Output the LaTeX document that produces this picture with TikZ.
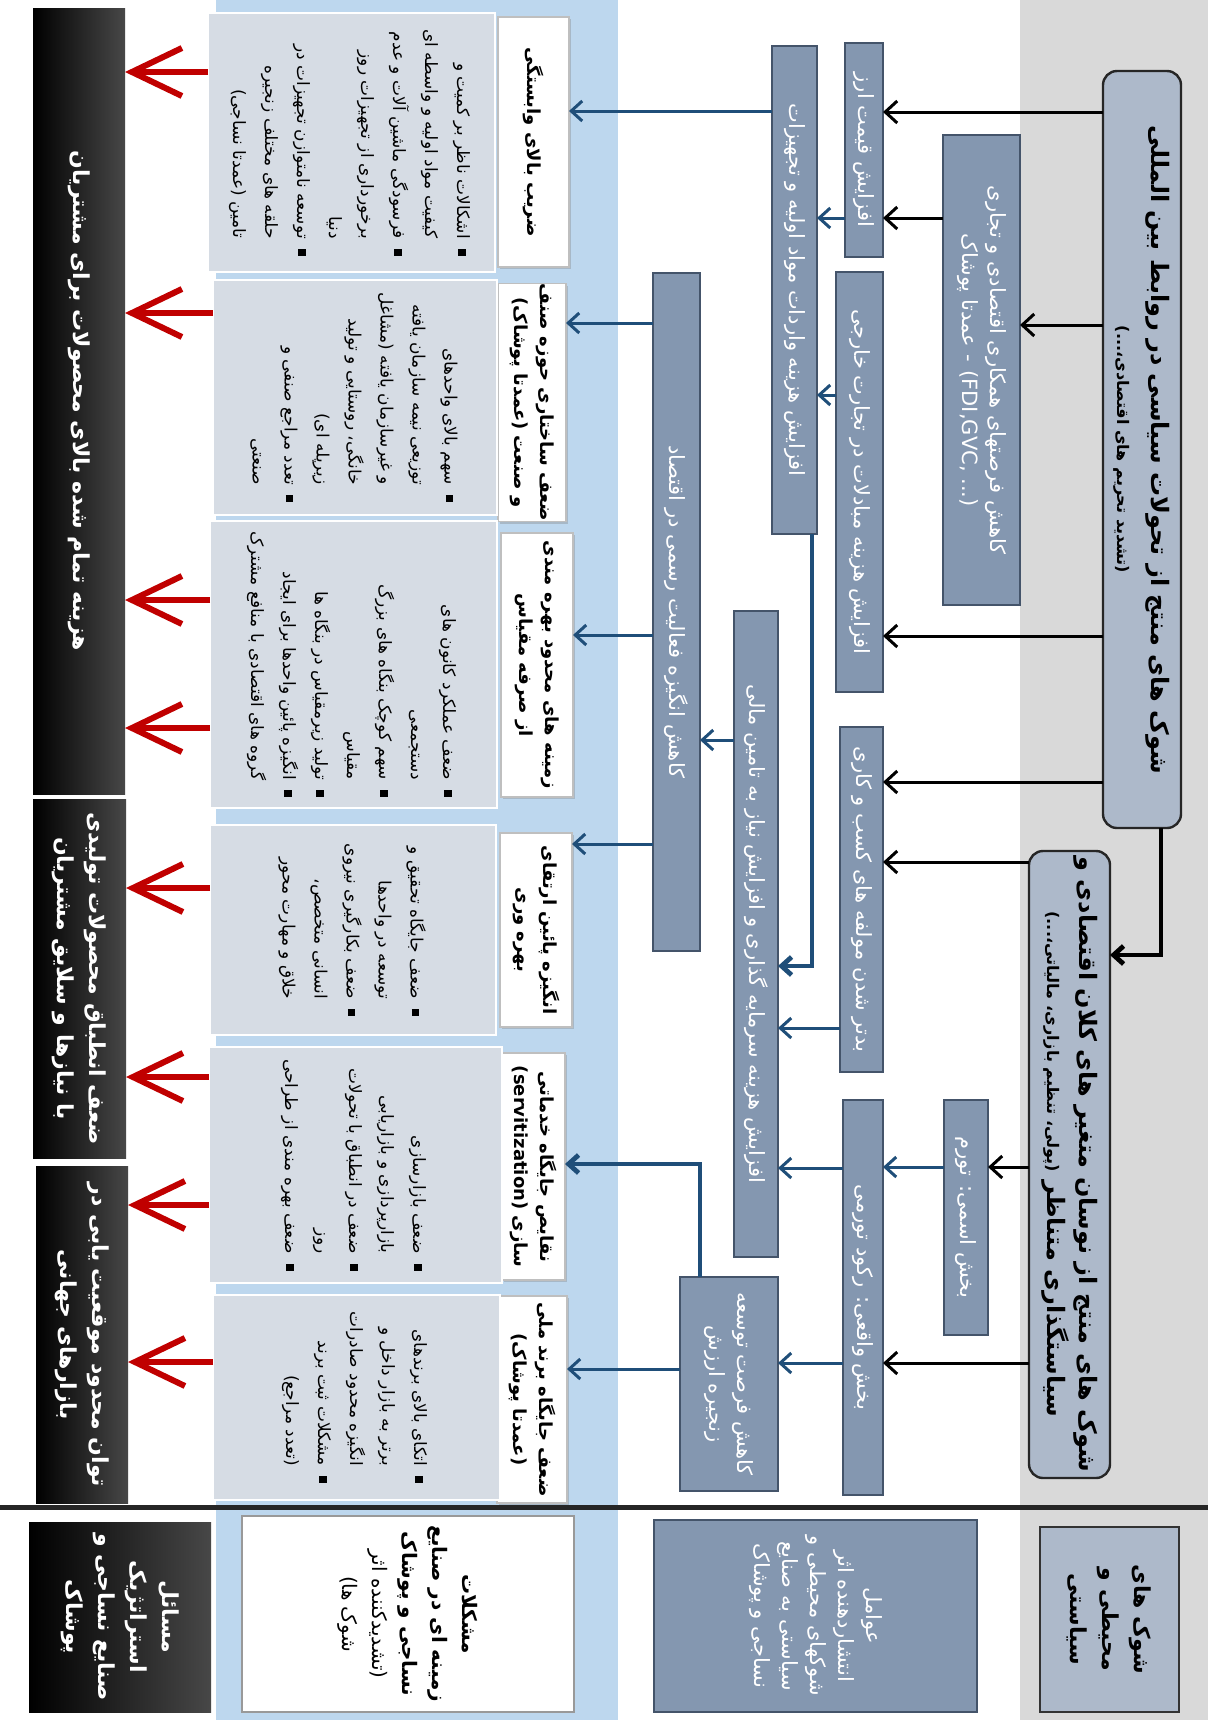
\documentclass[tikz,border=0pt]{standalone}
\usepackage{fontspec}
\setmainfont{DejaVu Sans}
\newfontfamily\fafont[Script=Arabic]{DejaVu Sans}
\TeXXeTstate=1
\usetikzlibrary{arrows.meta,shadows}
\definecolor{grayband}{HTML}{D9D9D9}
\definecolor{blueband}{HTML}{BDD7EE}
\definecolor{shockfill}{HTML}{ADB9CA}
\definecolor{steel}{HTML}{8497B0}
\definecolor{steeledge}{HTML}{44546A}
\definecolor{bulfill}{HTML}{D6DCE4}
\definecolor{arrowblue}{HTML}{1F4E79}
\definecolor{arrowred}{HTML}{C00000}
\newcommand{\rl}[1]{\beginR#1\endR}
\newcommand{\rlb}[1]{{\bfseries\beginR#1\endR}}
\newcommand{\latinpart}[1]{\beginL{\rmfamily #1}\endL}
\newcommand{\setfs}[2]{\fontsize{#1}{#2}\selectfont}
\newcommand{\bul}{\raisebox{0.6pt}{\rule{3.6pt}{3.6pt}}}
\newcommand{\bt}[1]{\begin{tabular}{@{}r@{\hspace{5pt}}c@{}}#1\end{tabular}}
\newcommand{\mkbox}[7]{%
  \pgfmathsetlengthmacro\mkW{(#6-#4)*0.5pt}%
  \pgfmathsetlengthmacro\mkH{(#5-#3)*0.5pt}%
  \node[#1, minimum width=\mkW, minimum height=\mkH] (#2) at ({(#3+#5)/2},{(#4+#6)/2}) {#7};}
\tikzset{
  base/.style={rotate=-90, inner sep=0pt, outer sep=0pt, align=center},
  shock/.style={base, fill=shockfill, draw=black!85, line width=1.2pt, rounded corners=7pt, font={\fafont\bfseries\setfs{12}{16}}},
  shocklg/.style={base, fill=shockfill, draw=black!80, line width=1pt, font={\fafont\bfseries\setfs{11}{16}}},
  steelbox/.style={base, fill=steel, draw=steeledge, line width=1pt, text=white, font={\fafont\setfs{10.5}{14}}},
  titlebox/.style={base, fill=white, draw=black!25, line width=0.6pt, drop shadow={shadow xshift=1.2pt, shadow yshift=-1.2pt, opacity=0.35}, font={\fafont\bfseries\setfs{9}{13}}},
  bulbox/.style={base, fill=bulfill, draw=white, line width=1pt, font={\fafont\setfs{8.5}{16}}},
  blackbox/.style={base, draw=none, left color=black, middle color=black, right color=black!72, text=white, font={\fafont\bfseries\setfs{11}{16}}},
  whitelg/.style={base, fill=white, draw=black!40, line width=0.8pt, font={\fafont\setfs{10}{15}}},
  blk/.style={draw=black, line width=1.5pt, -{Straight Barb[length=6pt,width=11pt]}},
  blkthick/.style={draw=black, line width=2.4pt, -{Straight Barb[length=5pt,width=9pt]}},
  blu/.style={draw=arrowblue, line width=1.5pt, -{Straight Barb[length=5.5pt,width=10pt]}},
  bluthick/.style={draw=arrowblue, line width=2.4pt, -{Straight Barb[length=5pt,width=9pt]}},
  redarr/.style={draw=arrowred, line width=3pt, -{Straight Barb[length=25pt,width=24pt]}},
}
\begin{document}
\begin{tikzpicture}[x=0.5pt,y=-0.5pt]
\useasboundingbox (0,0) rectangle (1208,1720);
\fill[white] (0,0) rectangle (1208,1720);
% bands
\fill[grayband] (1020,0) rectangle (1208,1720);
\fill[blueband] (216,0) rectangle (618,1720);
\draw[line width=2.5pt, black!85] (0,1507) -- (1208,1507);

% shocks
\mkbox{shock}{A}{1103}{71}{1181}{828}{\rl{شوک های منتج از تحولات سیاسی در روابط بین المللی}\\[1pt]{\setfs{8}{10}\rl{(تشدید تحریم های اقتصادی،...)}}}
\mkbox{shock}{B}{1029}{851}{1110}{1478}{\rl{شوک های منتج از نوسان متغیر های کلان اقتصادی و}\\ \rl{سیاستگذاری متناظر {\setfs{8}{10}(پولی، تنظیم بازاری، مالیاتی،...)}}}
\mkbox{shocklg}{LG}{1040}{1527}{1179}{1712}{\rl{شوک های}\\ \rl{محیطی و}\\ \rl{سیاستی}}

% column 2
\mkbox{steelbox}{arz}{845}{43}{883}{257}{\rl{افزایش قیمت ارز}}
\mkbox{steelbox}{hamk}{943}{135}{1020}{605}{\rl{کاهش فرصتهای همکاری اقتصادی و تجاری}\\ \rl{\latinpart{(FDI,GVC, ...)} - عمدتا پوشاک}}
\mkbox{steelbox}{mobad}{836}{272}{883}{692}{\rl{افزایش هزینه مبادلات در تجارت خارجی}}
\mkbox{steelbox}{badtar}{840}{727}{883}{1072}{\rl{بدتر شدن مولفه های کسب و کاری}}
\mkbox{steelbox}{tavar}{944}{1100}{988}{1335}{\rl{بخش اسمی: تورم}}
\mkbox{steelbox}{vaghei}{843}{1100}{883}{1495}{\rl{بخش واقعی: رکود تورمی}}

% column 3
\mkbox{steelbox}{vared}{772}{46}{817}{534}{\rl{افزایش هزینه واردات مواد اولیه و تجهیزات}}
\mkbox{steelbox}{angiz}{653}{273}{700}{951}{\rl{کاهش انگیزه فعالیت رسمی در اقتصاد}}
\mkbox{steelbox}{sarm}{734}{611}{778}{1257}{\rl{افزایش هزینه سرمایه گذاری و افزایش نیاز به تامین مالی}}
\mkbox{steelbox}{zanj}{680}{1277}{778}{1491}{\rl{کاهش فرصت توسعه}\\ \rl{زنجیره ارزش}}
\mkbox{steelbox}{LS}{654}{1520}{977}{1712}{\rl{عوامل}\\ \rl{انتشاردهنده اثر}\\ \rl{شوکهای محیطی و}\\ \rl{سیاستی به صنایع}\\ \rl{نساجی و پوشاک}}

% title boxes
\mkbox{titlebox}{t1}{498}{17}{569}{267}{\rl{ضریب بالای وابستگی}}
\mkbox{titlebox}{t2}{498}{287}{566}{518}{\rl{ضعف ساختاری حوزه صنف}\\ \rl{و صنعت (عمدتا پوشاک)}}
\mkbox{titlebox}{t3}{501}{533}{573}{797}{\rl{زمینه های محدود بهره مندی}\\ \rl{از صرفه مقیاس}}
\mkbox{titlebox}{t4}{500}{833}{572}{1027}{\rl{انگیزه پائین ارتقای}\\ \rl{بهره وری}}
\mkbox{titlebox}{t5}{502}{1053}{565}{1280}{\rl{نقایص جایگاه خدماتی}\\ \rl{سازی \latinpart{(servitization)}}}
\mkbox{titlebox}{t6}{497}{1296}{567}{1503}{\rl{ضعف جایگاه برند ملی}\\ \rl{(عمدتا پوشاک)}}
\mkbox{whitelg}{LW}{242}{1516}{574}{1712}{\rlb{مشکلات}\\ \rlb{زمینه ای در صنایع}\\ \rlb{نساجی و پوشاک}\\ \rl{(تشدیدکننده اثر}\\ \rl{شوک ها)}}

% bullet boxes
\mkbox{bulbox}{g1}{208}{13}{495}{272}{\bt{
\rl{اشکالات ناظر بر کمیت و} & \bul\\
\rl{کیفیت مواد اولیه و واسطه ای} & \\
\rl{فرسودگی ماشین آلات و عدم} & \bul\\
\rl{برخورداری از تجهیزات روز} & \\
\rl{دنیا} & \\
\rl{توسعه نامتوازن تجهیزات در} & \bul\\
\rl{حلقه های مختلف زنجیره} & \\
\rl{تامین (عمدتا نساجی)} & }}
\mkbox{bulbox}{g2}{213}{280}{497}{515}{\bt{
\rl{سهم بالای واحدهای} & \bul\\
\rl{توزیعی نیمه سازمان یافته} & \\
\rl{و غیرسازمان یافته (مشاغل} & \\
\rl{خانگی، روستایی و تولید} & \\
\rl{زیرپله ای)} & \\
\rl{تعدد مراجع صنفی و} & \bul\\
\rl{صنعتی} & }}
\mkbox{bulbox}{g3}{210}{521}{497}{808}{\bt{
\rl{ضعف عملکرد کانون های} & \bul\\
\rl{دستجمعی} & \\
\rl{سهم کوچک بنگاه های بزرگ} & \bul\\
\rl{مقیاس} & \\
\rl{تولید زیرمقیاس در بنگاه ها} & \bul\\
\rl{انگیزه پائین واحدها برای ایجاد} & \bul\\
\rl{گروه های اقتصادی با منافع مشترک} & }}
\mkbox{bulbox}{g4}{210}{825}{496}{1035}{\bt{
\rl{ضعف جایگاه تحقیق و} & \bul\\
\rl{توسعه در واحدها} & \\
\rl{ضعف بکارگیری نیروی} & \bul\\
\rl{انسانی متخصص،} & \\
\rl{خلاق و مهارت محور} & }}
\mkbox{bulbox}{g5}{209}{1047}{502}{1283}{\bt{
\rl{ضعف بازارسازی} & \bul\\
\rl{بازارپردازی و بازاریابی} & \\
\rl{ضعف در انطباق با تحولات} & \bul\\
\rl{روز} & \\
\rl{ضعف بهره مندی از طراحی} & \bul}}
\mkbox{bulbox}{g6}{213}{1295}{500}{1500}{\bt{
\rl{اتکای بالای برندهای} & \bul\\
\rl{برتر به بازار داخل و} & \\
\rl{انگیزه محدود صادرات} & \\
\rl{مشکلات ثبت برند} & \bul\\
\rl{(تعدد مراجع)} & }}

% black boxes
\mkbox{blackbox}{k1}{33}{8}{125}{794}{\rl{هزینه تمام شده بالای محصولات برای مشتریان}}
\mkbox{blackbox}{k2}{33}{799}{126}{1158}{\rl{ضعف انطباق محصولات تولیدی}\\ \rl{با نیازها و سلایق مشتریان}}
\mkbox{blackbox}{k3}{36}{1166}{128}{1503}{\rl{توان محدود موقعیت یابی در}\\ \rl{بازارهای جهانی}}
\mkbox{blackbox}{LK}{29}{1522}{211}{1712}{\rl{مسائل}\\ \rl{استراتژیک}\\ \rl{صنایع نساجی و}\\ \rl{پوشاک}}

% black connectors
\draw[blk] (A.south |- 0,112) -- (arz.north |- 0,112);
\draw[blk] (A.south |- 0,325) -- (hamk.north |- 0,325);
\draw[blk] (A.south |- 0,636) -- (mobad.north |- 0,636);
\draw[blk] (A.south |- 0,782) -- (badtar.north |- 0,782);
\draw[blkthick] (A.east -| 1161,0) |- (B.north |- 0,955);
\draw[blk] (hamk.south |- 0,218) -- (arz.north |- 0,218);
\draw[blk] (B.south |- 0,862) -- (badtar.north |- 0,862);
\draw[blk] (B.south |- 0,1167) -- (tavar.north |- 0,1167);
\draw[blk] (B.south |- 0,1363) -- (vaghei.north |- 0,1363);

% blue connectors
\draw[blu] (arz.south |- 0,218) -- (vared.north |- 0,218);
\draw[blu] (mobad.south |- 0,395) -- (vared.north |- 0,395);
\draw[blu] (vared.south |- 0,111) -- (t1.north |- 0,111);
\draw[bluthick] (vared.east -| 812,0) |- (sarm.north |- 0,966);
\draw[blu] (badtar.south |- 0,1028) -- (sarm.north |- 0,1028);
\draw[blu] (tavar.south |- 0,1167) -- (vaghei.north |- 0,1167);
\draw[blu] (vaghei.south |- 0,1168) -- (sarm.north |- 0,1168);
\draw[blu] (vaghei.south |- 0,1363) -- (zanj.north |- 0,1363);
\draw[blu] (sarm.south |- 0,740) -- (angiz.north |- 0,740);
\draw[blu] (angiz.south |- 0,323) -- (t2.north |- 0,323);
\draw[blu] (angiz.south |- 0,635) -- (t3.north |- 0,635);
\draw[blu] (angiz.south |- 0,844) -- (t4.north |- 0,844);
\draw[bluthick] (zanj.west -| 700,0) |- (t5.north |- 0,1164);
\draw[blu] (zanj.south |- 0,1369) -- (t6.north |- 0,1369);

% red connectors
\draw[redarr] (g1.south |- 0,72) -- (k1.north |- 0,72);
\draw[redarr] (g2.south |- 0,313) -- (k1.north |- 0,313);
\draw[redarr] (g3.south |- 0,600) -- (k1.north |- 0,600);
\draw[redarr] (g3.south |- 0,728) -- (k1.north |- 0,728);
\draw[redarr] (g4.south |- 0,888) -- (k2.north |- 0,888);
\draw[redarr] (g5.south |- 0,1077) -- (k2.north |- 0,1077);
\draw[redarr] (g5.south |- 0,1205) -- (k3.north |- 0,1205);
\draw[redarr] (g6.south |- 0,1362) -- (k3.north |- 0,1362);
\end{tikzpicture}
\end{document}
